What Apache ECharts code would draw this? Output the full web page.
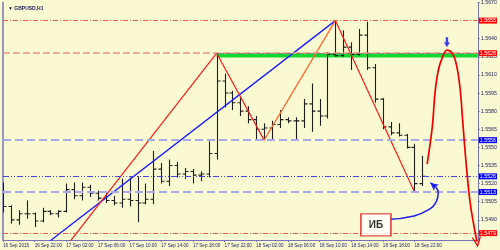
<!DOCTYPE html>
<html><head><meta charset="utf-8">
<script src="https://cdn.jsdelivr.net/npm/echarts@6/dist/echarts.min.js"></script>
<style>html,body{margin:0;padding:0;background:#FAFAD2}#c{width:500px;height:250px}</style>
</head><body><div id="c"></div>
<script>
// hours counted from 16 Sep 2015 00:00; first bar = 16 Sep 18:00 (H1 bars)
const firstHour = 18;
const opens  = [1.5506,1.5501,1.5490,1.5495,1.5495,1.5489,1.5497,1.5495,1.5497,1.5515,1.5510,1.5517,1.5512,1.5508,1.5506,1.5504,1.5507,1.5506,1.5504,1.5507,1.5532,1.5522,1.5535,1.5528,1.5530,1.5527,1.5528,1.5545,1.5605,1.5595,1.5587,1.5580,1.5573,1.5565,1.5566,1.5569,1.5573,1.5572,1.5572,1.5586,1.5580,1.5576,1.5627,1.5626,1.5633,1.5627,1.5643,1.5616,1.5590,1.5567,1.5562,1.5560,1.5550,1.5520];
const highs  = [1.5521,1.5502,1.5498,1.5506,1.5496,1.5500,1.5498,1.5498,1.5520,1.5521,1.5521,1.5519,1.5514,1.5513,1.5510,1.5524,1.5525,1.5526,1.5520,1.5547,1.5537,1.5540,1.5538,1.5533,1.5532,1.5530,1.5555,1.5628,1.5611,1.5597,1.5592,1.5584,1.5576,1.5570,1.5572,1.5581,1.5575,1.5575,1.5590,1.5603,1.5590,1.5629,1.5655,1.5647,1.5637,1.5648,1.5654,1.5619,1.5591,1.5571,1.5570,1.5561,1.5553,1.5543];
const lows   = [1.5496,1.5487,1.5486,1.5491,1.5484,1.5488,1.5494,1.5492,1.5496,1.5507,1.5506,1.5509,1.5506,1.5504,1.5502,1.5500,1.5501,1.5488,1.5503,1.5503,1.5520,1.5518,1.5525,1.5524,1.5520,1.5522,1.5525,1.5540,1.5583,1.5581,1.5576,1.5570,1.5557,1.5556,1.5557,1.5566,1.5570,1.5557,1.5566,1.5563,1.5568,1.5574,1.5625,1.5625,1.5614,1.5626,1.5614,1.5587,1.5565,1.5560,1.5559,1.5549,1.5513,1.5518];
const closes = [1.5501,1.5490,1.5495,1.5495,1.5489,1.5497,1.5495,1.5497,1.5515,1.5510,1.5517,1.5512,1.5508,1.5506,1.5504,1.5507,1.5506,1.5504,1.5507,1.5532,1.5522,1.5535,1.5528,1.5530,1.5527,1.5528,1.5545,1.5605,1.5595,1.5587,1.5580,1.5573,1.5565,1.5566,1.5569,1.5573,1.5572,1.5572,1.5586,1.5580,1.5576,1.5627,1.5626,1.5633,1.5627,1.5643,1.5616,1.5590,1.5567,1.5562,1.5560,1.5550,1.5520,1.5526];

const timeTickHours  = [18,22,26,30,34,38,42,46,50,54,58,62,66,70];
const timeTickLabels = ['16 Sep 2015','16 Sep 22:00','17 Sep 02:00','17 Sep 06:00','17 Sep 10:00','17 Sep 14:00','17 Sep 18:00','17 Sep 22:00','18 Sep 02:00','18 Sep 06:00','18 Sep 10:00','18 Sep 14:00','18 Sep 18:00','18 Sep 22:00'];
const priceTicks = [1.5490,1.5505,1.5520,1.5535,1.5550,1.5565,1.5580,1.5595,1.5610,1.5625,1.5640,1.5670];

const redDashDotLevels = [1.5655, 1.5479];
const resistanceLevel = 1.5628;
const blueDashedLevels = [1.5556, 1.5513];
const bidLevel = 1.5526;
const zone = {start: 45, top: 1.5628, bottom: 1.56245};

const zigzagUp     = [[26.1,1.5469],[45,1.5628],[51,1.5556]];
const zigzagOrange = [[51,1.5556],[60,1.5655]];
const zigzagDown   = [[60,1.5655],[70,1.5513]];
const trendLine    = [[23.25,1.5469],[60,1.5655]];
const forecast = [[71.6,1.55361],[72.25,1.55670],[72.6,1.55956],[73.0,1.56135],[73.5,1.56241],[74.1,1.56306],[74.75,1.56282],[75.25,1.56200],[75.75,1.55996],[76.1,1.55711],[76.5,1.55385],[77.0,1.55059],[77.5,1.54855],[77.9,1.54720]];
const arrowPoint = [74.1, 1.56371];
const labelPoint = [65.125, 1.54859];
const calloutCurve = [[67.0,1.54904],[69.75,1.54929],[71.625,1.54978],[72.75,1.55051],[73.0,1.55124],[72.6,1.55178],[72.0,1.55206]];

const AX = '#7676B6', TXT = '#1c1c5c', FONT = 'Liberation Sans';
const chart = echarts.init(document.getElementById('c'), null, {renderer:'canvas'});

function lvl(v, color, type, width, tagColor) {
  return {yAxis: v, lineStyle: {color, type, width},
    label: {show: !!tagColor, position: 'end', distance: 1, formatter: v.toFixed(4),
      backgroundColor: tagColor, color: '#fff', fontSize: 5.3, fontFamily: FONT, padding: [1,1,0,1]}};
}

const lastF = forecast.length - 1;
const forecastData = forecast.map((p, i) => i === lastF ? {value: p, symbol: 'path://M0,0 L5,10 L10,0', symbolSize: [8,9], symbolRotate: 8,
  itemStyle: {color: 'rgba(0,0,0,0)', borderColor: '#E00000', borderWidth: 1.3}} : {value: p, symbol: 'none'});
const lastC = calloutCurve.length - 1;
const calloutData = calloutCurve.map((p, i) => i === lastC ? {value: p, symbol: 'arrow', symbolSize: [6,8], symbolRotate: 51} : {value: p, symbol: 'none'});

chart.setOption({
  animation: false,
  backgroundColor: '#FAFAD2',
  title: {text: '▼ GBPUSD,H1', left: 3, top: 1, textStyle: {fontSize: 5, fontWeight: 'bold', color: TXT, fontFamily: FONT}},
  grid: {left: 1, right: 19, top: -1.35, bottom: 10},
  xAxis: {type: 'value', min: 18, max: 78,
    axisLine: {show: true, lineStyle: {color: AX, width: 1}},
    axisTick: {show: true, length: 2, lineStyle: {color: AX}, customValues: timeTickHours},
    axisLabel: {customValues: timeTickHours, formatter: v => timeTickLabels[timeTickHours.indexOf(v)] || '',
      align: 'left', margin: 3, fontSize: 4.6, color: TXT, fontFamily: FONT},
    splitLine: {show: false}},
  yAxis: [{type: 'value', position: 'right', min: 1.54733, max: 1.5670,
    axisLine: {show: true, lineStyle: {color: AX, width: 1}},
    axisTick: {show: true, length: 2, lineStyle: {color: AX}, customValues: priceTicks},
    axisLabel: {customValues: priceTicks, formatter: v => v.toFixed(4), margin: 3, fontSize: 5.3, color: TXT, fontFamily: FONT},
    splitLine: {show: false}},
   {type: 'value', position: 'left', min: 0, max: 1, axisLine: {show: true, onZero: false, lineStyle: {color: AX, width: 1.5}},
    axisTick: {show: false}, axisLabel: {show: false}, splitLine: {show: false}}],
  series: [
    {type: 'line', name: 'levels', data: [], z: 2, yAxisIndex: 0,
     markArea: {silent: true, itemStyle: {color: '#12D832', opacity: 1},
       data: [[{xAxis: zone.start, yAxis: zone.top}, {xAxis: 78, yAxis: zone.bottom}]]},
     markLine: {silent: true, symbol: 'none', animation: false, precision: 5,
       data: [
         lvl(redDashDotLevels[0], '#EE5A46', [5,2,1,2], 1, '#FF0000'),
         lvl(resistanceLevel, '#F29080', [7,3], 1.5, '#FF0000'),
         lvl(blueDashedLevels[0], '#A9A9EE', [8,4], 2, '#0000FF'),
         lvl(bidLevel, '#4646E6', [6,2,1,2,1,2], 1, '#0000FF'),
         lvl(blueDashedLevels[1], '#A9A9EE', [8,4], 2, '#0000FF'),
         lvl(redDashDotLevels[1], '#EE5A46', [5,2,1,2], 1, '#FF0000'),
         [{coord: [zone.start, resistanceLevel], lineStyle: {color: '#7C8C78', type: [7,3], width: 1.2}, label: {show: false}}, {coord: [78, resistanceLevel]}]
       ]}},
    {type: 'custom', name: 'bars', clip: true, z: 3,
     data: opens.map((o, i) => [firstHour + i, o, highs[i], lows[i], closes[i]]),
     encode: {x: 0, y: [1,2,3,4]},
     renderItem: (params, api) => {
       const x = api.value(0);
       const o = api.coord([x, api.value(1)]), h = api.coord([x, api.value(2)]);
       const l = api.coord([x, api.value(3)]), c = api.coord([x, api.value(4)]);
       const px = Math.round(o[0]) + 0.5;
       const st = {stroke: '#1e1e1e', lineWidth: 1.1};
       return {type: 'group', children: [
         {type: 'line', shape: {x1: px, y1: h[1], x2: px, y2: l[1]}, style: st},
         {type: 'line', shape: {x1: px - 3, y1: o[1], x2: px, y2: o[1]}, style: st},
         {type: 'line', shape: {x1: px, y1: c[1], x2: px + 3, y2: c[1]}, style: st}]};
     }},
    {type: 'line', data: trendLine, showSymbol: false, clip: true, z: 4, lineStyle: {color: '#1a1aFF', width: 1.3}},
    {type: 'line', data: zigzagUp, showSymbol: false, clip: true, z: 4, lineStyle: {color: '#FF1a1a', width: 1.2}},
    {type: 'line', data: zigzagOrange, showSymbol: false, clip: true, z: 4, lineStyle: {color: '#FF6428', width: 1.2}},
    {type: 'line', data: zigzagDown, showSymbol: false, clip: true, z: 4, lineStyle: {color: '#FF1a1a', width: 1.2}},
    {type: 'line', data: forecastData, smooth: 0.35, clip: false, z: 5, showSymbol: true,
     lineStyle: {color: '#F00000', width: 1.7}},
    {type: 'scatter', data: [arrowPoint], z: 6, clip: false,
     symbol: 'path://M3,0 L7,0 L7,6 L10,6 L5,12 L0,6 L3,6 Z', symbolSize: [6,10], itemStyle: {color: '#1010F0'}},
    {type: 'line', data: calloutData, smooth: 0.5, clip: false, z: 6, showSymbol: true,
     lineStyle: {color: '#2020EE', width: 1.5}, itemStyle: {color: '#2020EE'}},
    {type: 'scatter', data: [labelPoint], z: 7, clip: false, symbol: 'rect', symbolSize: [30,22],
     itemStyle: {color: '#FFFFFF', borderColor: '#E02020', borderWidth: 1.5},
     label: {show: true, position: 'inside', formatter: 'ИБ', fontSize: 10, fontWeight: 'bold', color: '#000', fontFamily: FONT}}
  ]
});
</script></body></html>
